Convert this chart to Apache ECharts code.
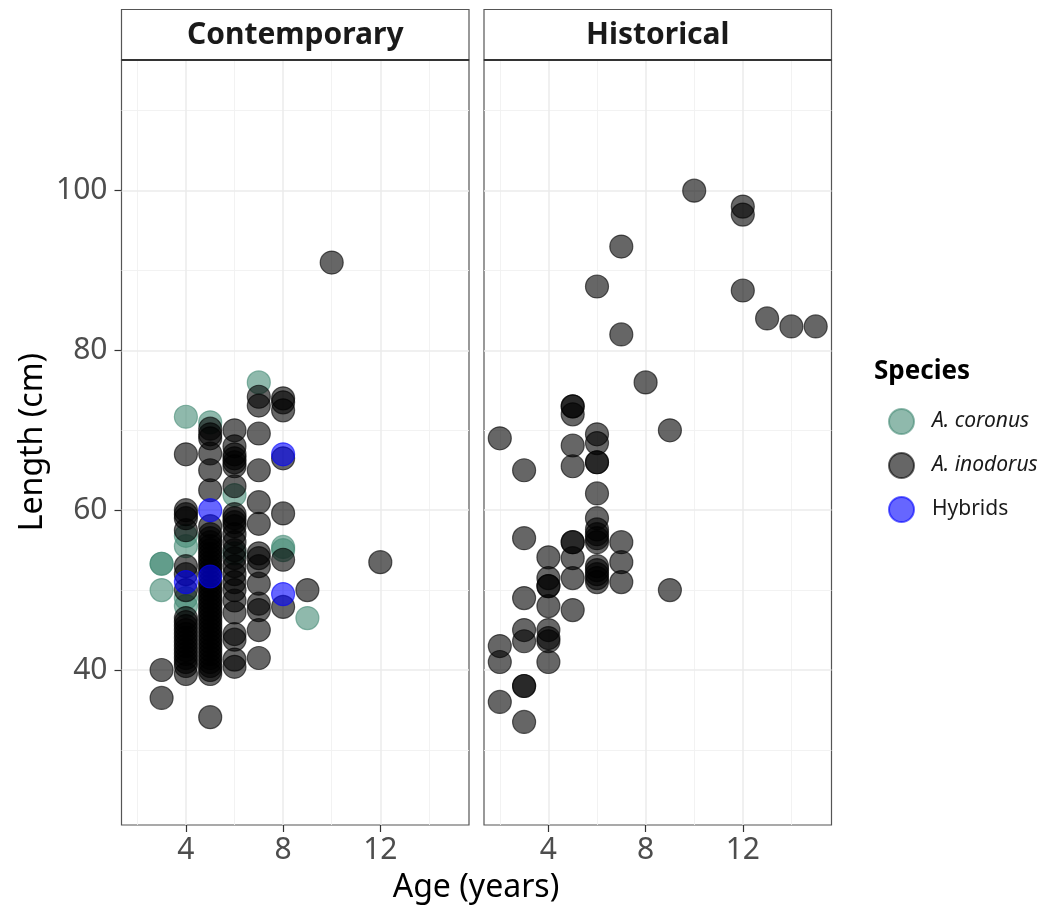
<!DOCTYPE html>
<html>
<head>
<meta charset="utf-8">
<script src="https://cdn.jsdelivr.net/npm/echarts@6/dist/echarts.min.js"></script>
<style>
  html, body { margin: 0; padding: 0; background: #ffffff; }
  #chart { width: 1048px; height: 908px; }
</style>
</head>
<body>
<div id="chart"></div>
<script>
// Facet titles, species names and axis ticks
const panels = ['Contemporary', 'Historical'];
const speciesNames = ['A. coronus', 'A. inodorus', 'Hybrids'];
const xTicks = [4, 8, 12];
const xMinorLines = [2, 6, 10, 14];
const yTicks = [40, 60, 80, 100];
const yMinorLines = [30, 50, 70, 90, 110];

// Contemporary samples: [age (years), length (cm)]
const contCoronus = [
  [3, 53.3], [3, 53.3], [3, 50.0],
  [4, 71.7], [4, 56.8], [4, 55.5], [4, 49.0], [4, 48.0],
  [5, 71.0],
  [6, 61.9], [6, 54.6],
  [7, 76.0],
  [8, 55.4], [8, 55.0],
  [9, 46.5]
];
const contInodorus = [
  [3, 40.0], [3, 36.5],
  [4, 67.0], [4, 60.0], [4, 59.5], [4, 59.0], [4, 57.5], [4, 53.0], [4, 52.0], [4, 50.0],
  [4, 46.5], [4, 46.0], [4, 45.5], [4, 45.0], [4, 44.5], [4, 44.0], [4, 43.5], [4, 43.0],
  [4, 42.5], [4, 42.0], [4, 41.5], [4, 41.0], [4, 40.5], [4, 39.5],
  [5, 70.2], [5, 69.5], [5, 69.0], [5, 67.1], [5, 65.0], [5, 62.5], [5, 58.0], [5, 57.0],
  [5, 56.5], [5, 56.0], [5, 55.5], [5, 55.0], [5, 54.5], [5, 54.0], [5, 53.5], [5, 53.0],
  [5, 52.5], [5, 52.0], [5, 51.0], [5, 50.5], [5, 50.0], [5, 49.5], [5, 49.0], [5, 48.5],
  [5, 48.0], [5, 47.5], [5, 47.0], [5, 46.5], [5, 46.0], [5, 45.5], [5, 45.0], [5, 44.5],
  [5, 44.0], [5, 43.5], [5, 43.0], [5, 42.5], [5, 42.0], [5, 41.5], [5, 41.0], [5, 40.5],
  [5, 40.0], [5, 39.5], [5, 34.1],
  [6, 70.0], [6, 68.0], [6, 67.0], [6, 66.5], [6, 66.0], [6, 65.5], [6, 63.0], [6, 59.5],
  [6, 59.0], [6, 58.5], [6, 58.0], [6, 57.0], [6, 56.0], [6, 55.0], [6, 54.0], [6, 53.0],
  [6, 52.0], [6, 51.0], [6, 50.0], [6, 48.7], [6, 47.2], [6, 44.5], [6, 43.8], [6, 41.3],
  [6, 40.4],
  [7, 74.2], [7, 73.1], [7, 69.6], [7, 65.0], [7, 61.0], [7, 58.3], [7, 54.6], [7, 54.0],
  [7, 53.0], [7, 50.8], [7, 48.3], [7, 47.5], [7, 45.0], [7, 41.5],
  [8, 74.0], [8, 73.5], [8, 72.5], [8, 66.5], [8, 59.6], [8, 53.8], [8, 47.9],
  [9, 50.0],
  [10, 91.0],
  [12, 53.5]
];
const contHybrids = [
  [4, 51.0],
  [5, 60.0], [5, 51.7],
  [8, 67.0], [8, 49.5]
];

// Historical samples: [age (years), length (cm)]
const histInodorus = [
  [2, 69.0], [2, 43.0], [2, 41.0], [2, 36.0],
  [3, 65.0], [3, 56.5], [3, 49.0], [3, 45.0], [3, 43.6], [3, 38.0], [3, 38.0], [3, 33.5],
  [4, 54.1], [4, 51.5], [4, 50.5], [4, 50.5], [4, 48.0], [4, 45.0], [4, 44.0], [4, 43.6], [4, 41.0],
  [5, 73.0], [5, 73.0], [5, 72.0], [5, 68.1], [5, 65.5], [5, 56.0], [5, 56.0], [5, 54.0], [5, 51.5], [5, 47.5],
  [6, 88.0], [6, 69.5], [6, 68.4], [6, 66.0], [6, 66.0], [6, 62.1], [6, 59.0], [6, 57.6],
  [6, 57.0], [6, 56.5], [6, 56.0], [6, 53.0], [6, 52.5], [6, 52.0], [6, 51.5], [6, 51.0],
  [7, 93.0], [7, 82.0], [7, 56.0], [7, 53.5], [7, 51.0],
  [8, 76.0],
  [9, 70.0], [9, 50.0],
  [10, 100.0],
  [12, 98.0], [12, 97.0], [12, 87.5],
  [13, 84.0],
  [14, 83.0],
  [15, 83.0]
];

const FONT = '"Noto Sans", "Open Sans", sans-serif';
const speciesColors = {
  'A. coronus': 'rgba(69,139,116,0.6)',
  'A. inodorus': 'rgba(0,0,0,0.6)',
  'Hybrids': 'rgba(0,0,255,0.6)'
};

const panelLeft = [121.5, 484];
const panelWidth = 347.5;
const panelTop = 60;
const panelHeight = 765;

// Background grid lines, kept underneath the points
function gridLineSeries(idx) {
  const major = { color: '#EBEBEB', width: 1.5, type: 'solid' };
  const minor = { color: '#F0F0F0', width: 0.9, type: 'solid' };
  const lines = [];
  yMinorLines.forEach(v => lines.push({ yAxis: v, lineStyle: minor }));
  xMinorLines.forEach(v => lines.push({ xAxis: v, lineStyle: minor }));
  yTicks.forEach(v => lines.push({ yAxis: v, lineStyle: major }));
  xTicks.forEach(v => lines.push({ xAxis: v, lineStyle: major }));
  return {
    type: 'scatter',
    xAxisIndex: idx,
    yAxisIndex: idx,
    data: [],
    z: 0,
    silent: true,
    markLine: {
      silent: true,
      z: 0,
      symbol: ['none', 'none'],
      label: { show: false },
      emphasis: { disabled: true },
      animation: false,
      data: lines
    }
  };
}

function pointSeries(name, data, idx) {
  return {
    name: name,
    type: 'scatter',
    xAxisIndex: idx,
    yAxisIndex: idx,
    data: data,
    symbol: 'circle',
    symbolSize: 23,
    z: 3,
    itemStyle: {
      color: speciesColors[name],
      borderColor: speciesColors[name],
      borderWidth: 1.2,
      opacity: 1
    },
    emphasis: { disabled: true }
  };
}

const grids = panelLeft.map(l => ({
  left: l, top: panelTop, width: panelWidth, height: panelHeight,
  show: true, borderColor: '#555555', borderWidth: 1.2, backgroundColor: 'transparent',
  containLabel: false
}));

const xAxes = panelLeft.map((l, i) => ({
  type: 'value', gridIndex: i, min: 1.35, max: 15.65,
  axisLine: { show: false },
  splitLine: { show: false },
  axisTick: { show: true, customValues: xTicks, length: 7, lineStyle: { color: '#333333', width: 1.2 } },
  axisLabel: { show: true, customValues: xTicks, fontFamily: FONT, fontSize: 30, color: '#4D4D4D', margin: 10 }
}));

const yAxes = panelLeft.map((l, i) => ({
  type: 'value', gridIndex: i, min: 20.6, max: 116.35,
  axisLine: { show: false },
  splitLine: { show: false },
  axisTick: { show: i === 0, customValues: yTicks, length: 7, lineStyle: { color: '#333333', width: 1.2 } },
  axisLabel: { show: i === 0, customValues: yTicks, fontFamily: FONT, fontSize: 30, color: '#4D4D4D', margin: 14 }
}));

const stripGraphics = [];
panels.forEach((title, i) => {
  stripGraphics.push({
    type: 'rect', z: 10,
    shape: { x: panelLeft[i], y: 9.5, width: panelWidth, height: panelTop - 9.5 },
    style: { fill: '#FFFFFF', stroke: '#555555', lineWidth: 1.2 }
  });
  stripGraphics.push({
    type: 'line', z: 11,
    shape: { x1: panelLeft[i], y1: panelTop, x2: panelLeft[i] + panelWidth, y2: panelTop },
    style: { stroke: '#333333', lineWidth: 2 }
  });
  stripGraphics.push({
    type: 'text', z: 12,
    x: panelLeft[i] + panelWidth / 2, y: 35,
    style: {
      text: title, fontFamily: FONT, fontSize: 30, fontWeight: 'bold', fill: '#1A1A1A',
      align: 'center', verticalAlign: 'middle'
    }
  });
});

const chart = echarts.init(document.getElementById('chart'), null, { renderer: 'canvas' });
chart.setOption({
  animation: false,
  backgroundColor: '#FFFFFF',
  grid: grids,
  xAxis: xAxes,
  yAxis: yAxes,
  legend: {
    data: speciesNames,
    orient: 'vertical',
    left: 883,
    top: 403,
    itemWidth: 25,
    itemHeight: 25,
    itemGap: 17,
    icon: 'circle',
    selectedMode: false,
    formatter: function (name) {
      return name === 'Hybrids' ? '{n|' + name + '}' : '{i|' + name + '}';
    },
    textStyle: {
      fontFamily: FONT, fontSize: 21, color: '#1A1A1A', padding: [0, 0, 0, 13],
      rich: {
        i: { fontFamily: FONT, fontSize: 21, fontStyle: 'italic', color: '#1A1A1A', lineHeight: 25 },
        n: { fontFamily: FONT, fontSize: 21, color: '#1A1A1A', lineHeight: 25 }
      }
    }
  },
  graphic: stripGraphics.concat([
    {
      type: 'text', x: 874, y: 372,
      style: { text: 'Species', fontFamily: FONT, fontSize: 26, fontWeight: 'bold', fill: '#000000', align: 'left', verticalAlign: 'middle' }
    },
    {
      type: 'text', x: 476, y: 888,
      style: { text: 'Age (years)', fontFamily: FONT, fontSize: 32, fill: '#000000', align: 'center', verticalAlign: 'middle' }
    },
    {
      type: 'text', x: 33, y: 442, rotation: Math.PI / 2,
      style: { text: 'Length (cm)', fontFamily: FONT, fontSize: 32, fill: '#000000', align: 'center', verticalAlign: 'middle' }
    }
  ]),
  series: [
    gridLineSeries(0),
    gridLineSeries(1),
    pointSeries('A. coronus', contCoronus, 0),
    pointSeries('A. inodorus', contInodorus, 0),
    pointSeries('Hybrids', contHybrids, 0),
    pointSeries('A. inodorus', histInodorus, 1)
  ]
});
</script>
</body>
</html>
